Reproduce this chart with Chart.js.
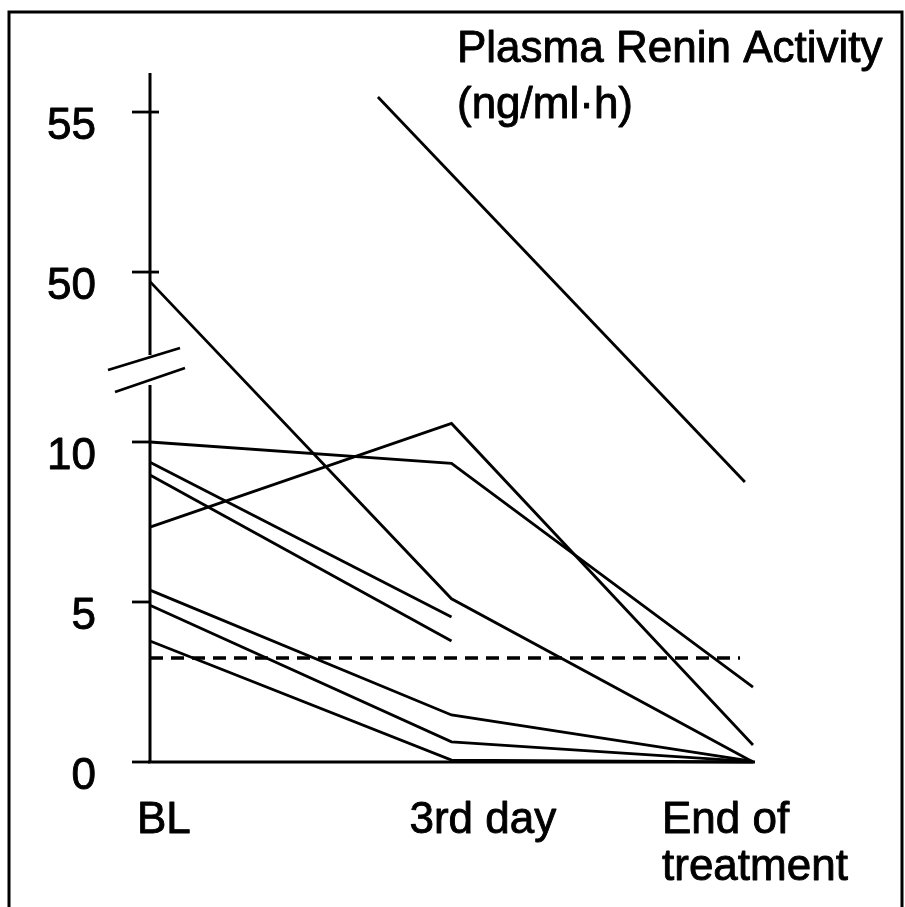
<!DOCTYPE html>
<html><head><meta charset="utf-8">
<script src="https://cdn.jsdelivr.net/npm/chart.js@4/dist/chart.umd.min.js"></script>
<style>html,body{margin:0;padding:0;background:#fff;}canvas{display:block;}</style>
</head><body>
<canvas id="c" width="905" height="907"></canvas>
<script>
// ---- data (ng/ml·h) ----
const timeLabels = ['BL', '3rd day', ['End of', 'treatment']];
const timeIndex = [0, 1, 2];
const yTickValues = [0, 5, 10, 50, 55];
const titleLines = ['Plasma Renin Activity', '(ng/ml\u00B7h)'];
const normalLimit = 3.25;
const normalLimitSpan = [0, 1.957];

const patient1 = [49.7, 5.1, 0.0];
const patient2 = [10.0, 9.33, 2.34];
const patient3 = [7.34, 10.58, 0.53];
const patient4 = [9.37, 4.53, null];
const patient5 = [8.97, 3.78, null];
const patient6 = [5.37, 1.47, 0.02];
const patient7 = [4.9, 0.63, 0.01];
const patient8 = [3.78, 0.06, 0.0];
// off-scale patient: only the visible segment is drawn
const patient9Time = [0.756, 1.973];
const patient9Values = [55.47, 8.75];

// ---- broken axis: values above the break are shifted down ----
const BREAK_FROM = 30;
const BREAK_SHIFT = 34.69;
function toAxis(v) { return v >= BREAK_FROM ? v - BREAK_SHIFT : v; }

function series(vals, times) {
  const t = times || timeIndex;
  const out = [];
  vals.forEach((v, i) => { if (v !== null) out.push({ x: t[i], y: toAxis(v) }); });
  return out;
}

const patients = [patient1, patient2, patient3, patient4, patient5, patient6, patient7, patient8];
const datasets = patients.map(p => ({
  data: series(p), borderColor: '#000', borderWidth: 2.8, pointRadius: 0, tension: 0, clip: false,
  borderJoinStyle: 'miter', fill: false
}));
datasets.push({
  data: series(patient9Values, patient9Time), borderColor: '#000', borderWidth: 2.8,
  pointRadius: 0, tension: 0, clip: false, fill: false
});
datasets.push({
  data: normalLimitSpan.map(x => ({ x: x, y: toAxis(normalLimit) })), borderColor: '#000',
  borderWidth: 3.6, borderDash: [13, 8], pointRadius: 0, clip: false, fill: false
});

const FONT = '44px "Liberation Sans", Arial, Helvetica, sans-serif';

const decor = {
  id: 'decor',
  beforeDatasetsDraw(chart) {
    const ctx = chart.ctx, xs = chart.scales.x, ys = chart.scales.y;
    const ax = xs.getPixelForValue(0);
    const y0 = ys.getPixelForValue(0);
    const top = chart.chartArea.top;
    ctx.save();
    ctx.strokeStyle = '#000';
    ctx.lineCap = 'butt';
    // frame
    ctx.lineWidth = 3;
    ctx.beginPath();
    ctx.moveTo(9, 920); ctx.lineTo(9, 12); ctx.lineTo(902, 12); ctx.lineTo(902, 920);
    ctx.stroke();
    // y axis with break gap
    const breakCenter = 370;
    ctx.lineWidth = 3;
    ctx.beginPath();
    ctx.moveTo(ax, top); ctx.lineTo(ax, breakCenter - 15);
    ctx.moveTo(ax, breakCenter + 15); ctx.lineTo(ax, y0);
    ctx.stroke();
    // break marks
    ctx.lineWidth = 2.8;
    ctx.beginPath();
    ctx.moveTo(ax - 42, breakCenter); ctx.lineTo(ax + 30, breakCenter - 22);
    ctx.moveTo(ax - 35, breakCenter + 22); ctx.lineTo(ax + 35, breakCenter - 2);
    ctx.stroke();
    // x axis
    ctx.lineWidth = 3.2;
    ctx.beginPath();
    ctx.moveTo(ax - 2, y0); ctx.lineTo(xs.getPixelForValue(2) + 2, y0);
    ctx.stroke();
    // y ticks
    ctx.lineWidth = 2.8;
    yTickValues.forEach(v => {
      const py = ys.getPixelForValue(toAxis(v));
      ctx.beginPath();
      ctx.moveTo(ax - 18, py); ctx.lineTo(v >= BREAK_FROM ? ax + 9 : ax, py);
      ctx.stroke();
    });
    ctx.restore();
  },
  afterDraw(chart) {
    const ctx = chart.ctx, xs = chart.scales.x, ys = chart.scales.y;
    const ax = xs.getPixelForValue(0);
    const y0 = ys.getPixelForValue(0);
    ctx.save();
    ctx.fillStyle = '#000';
    ctx.strokeStyle = '#000';
    ctx.lineWidth = 0.9;
    ctx.lineJoin = 'round';
    ctx.font = FONT;
    ctx.textBaseline = 'alphabetic';
    const put = (t, x, y) => { ctx.fillText(t, x, y); ctx.strokeText(t, x, y); };
    // y tick labels
    ctx.textAlign = 'right';
    yTickValues.forEach(v => {
      const py = ys.getPixelForValue(toAxis(v));
      put(String(v), ax - 54, py + 27);
    });
    // x labels
    ctx.textAlign = 'left';
    const offs = [-13, -42, -91];
    timeLabels.forEach((lab, i) => {
      const px = xs.getPixelForValue(timeIndex[i]) + offs[i];
      const lines = Array.isArray(lab) ? lab : [lab];
      lines.forEach((ln, j) => put(ln, px, y0 + 71 + j * 47));
    });
    // title
    titleLines.forEach((ln, j) => put(ln, 457, 62 + j * 56));
    ctx.restore();
  }
};

new Chart(document.getElementById('c'), {
  type: 'line',
  data: { datasets: datasets },
  options: {
    responsive: false, animation: false, devicePixelRatio: 1,
    layout: { padding: { left: 150, right: 152, top: 73, bottom: 145 } },
    plugins: { legend: { display: false }, tooltip: { enabled: false } },
    scales: {
      x: { type: 'linear', min: 0, max: 2, display: false },
      y: { type: 'linear', min: 0, max: 21.53, display: false }
    }
  },
  plugins: [decor]
});
</script>
</body></html>
